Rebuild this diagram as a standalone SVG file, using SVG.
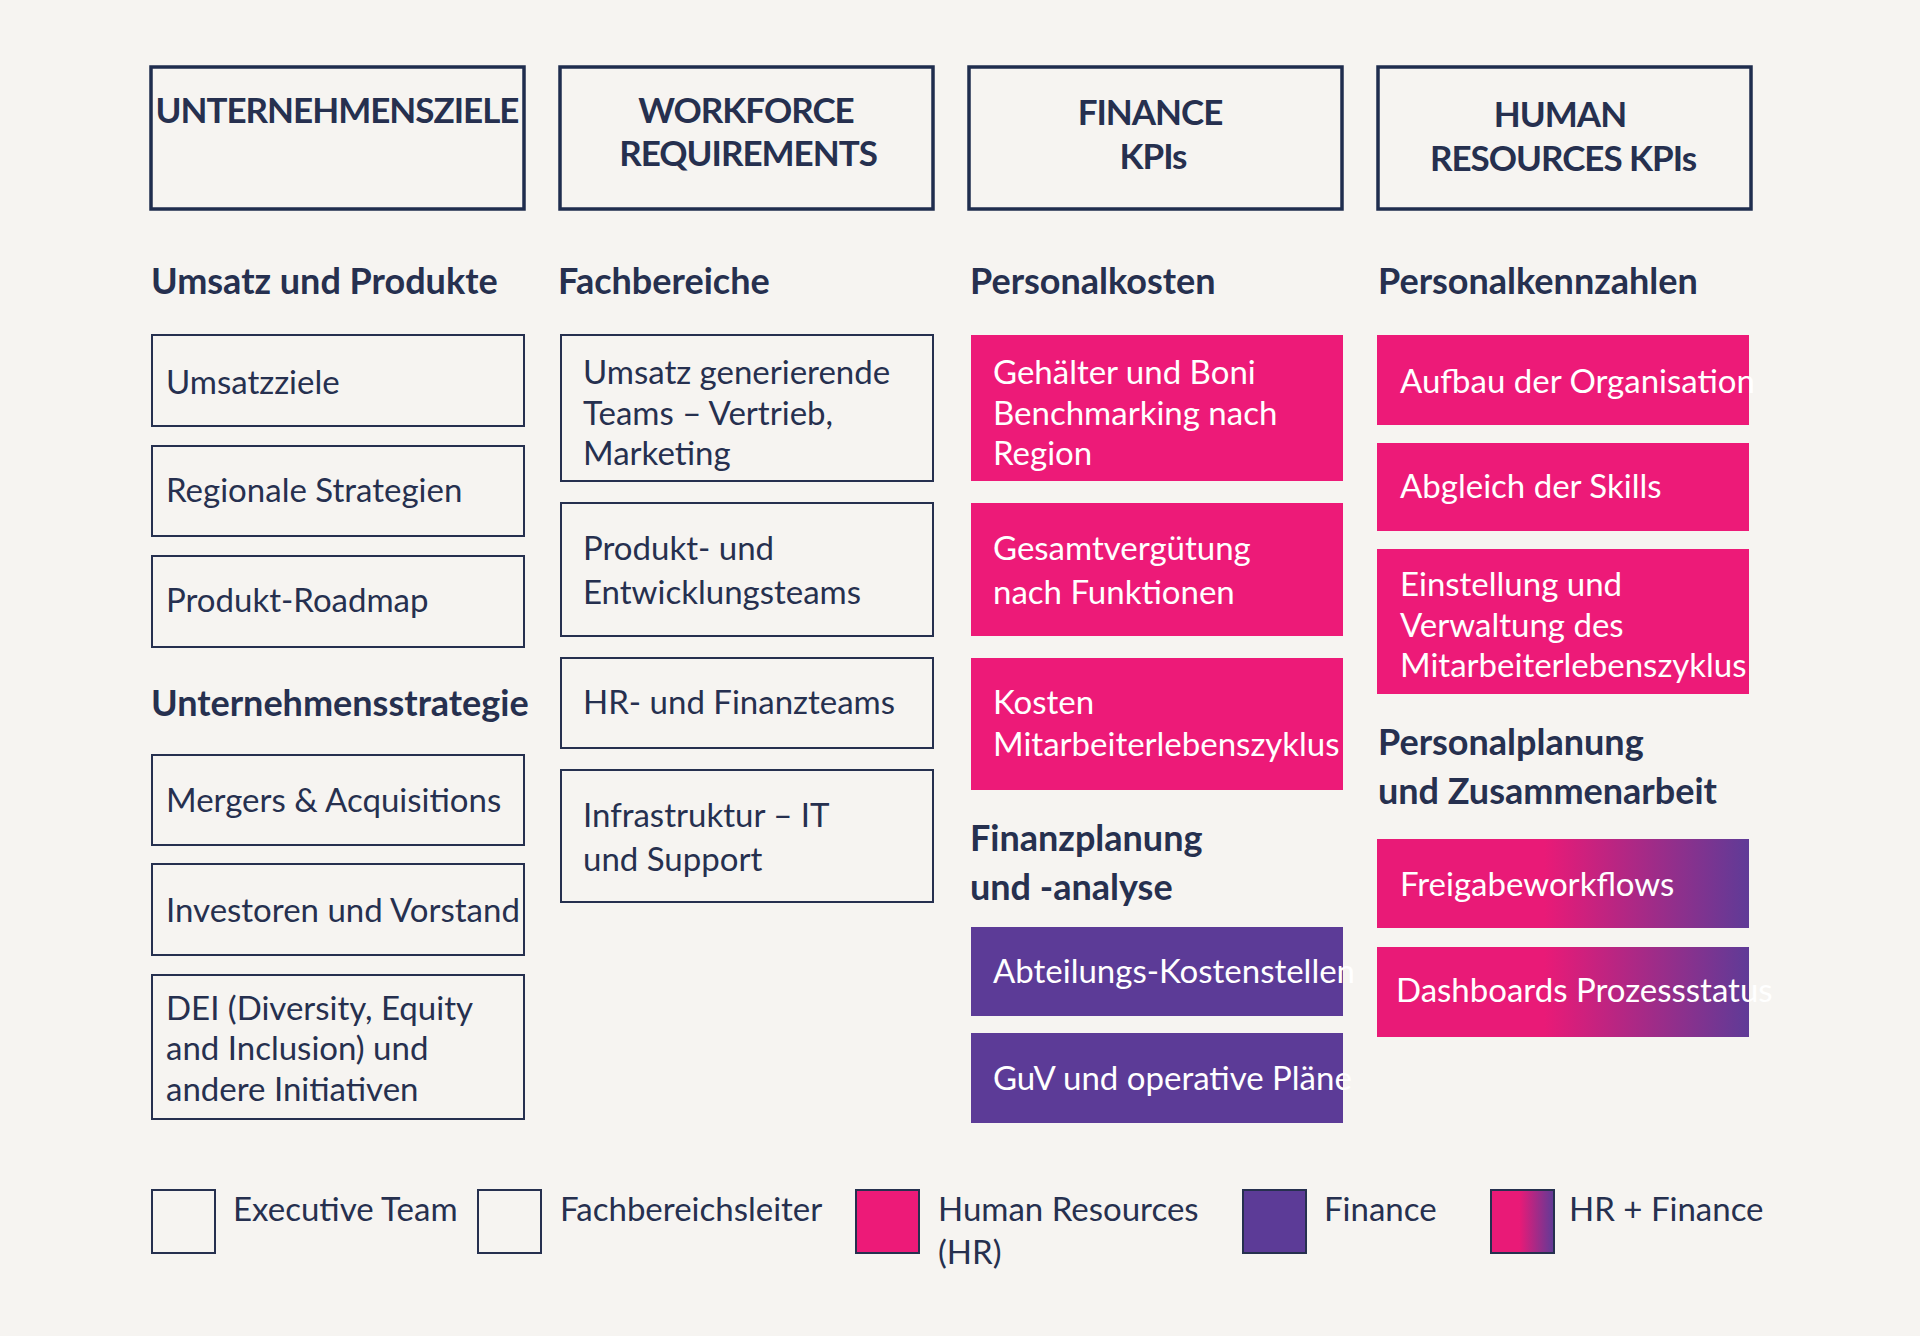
<svg xmlns="http://www.w3.org/2000/svg" width="1920" height="1336" viewBox="0 0 1920 1336">
<defs>
<linearGradient id="g" x1="0" x2="1" y1="0" y2="0"><stop offset="0.45" stop-color="#e91a77"/><stop offset="1" stop-color="#5f3b97"/></linearGradient>
<style>
text{font-family:Lato,"Open Sans","Liberation Sans",sans-serif;fill:#26304f}
.hb{fill:none;stroke:#1f2d4e;stroke-width:3.5}
.hd{font-size:35px;font-weight:bold;text-anchor:middle;letter-spacing:-1px}
.sh{font-size:36px;font-weight:bold}
.wb{fill:none;stroke:#26304f;stroke-width:2}
.pk{fill:#ed1a78}
.pu{fill:#5c3b97}
.gr{fill:url(#g)}
.t{font-size:33px}
.w{fill:#ffffff}
</style>
</defs>
<rect width="1920" height="1336" fill="#f6f4f1"/>
<g id="h1"><rect class="hb" x="151" y="67" width="373" height="142"/><text class="hd" x="337" y="123">UNTERNEHMENSZIELE</text></g>
<g id="h2"><rect class="hb" x="560" y="67" width="373" height="142"/><text class="hd" x="746" y="123">WORKFORCE</text><text class="hd" x="748" y="166">REQUIREMENTS</text></g>
<g id="h3"><rect class="hb" x="969" y="67" width="373" height="142"/><text class="hd" x="1150" y="125">FINANCE</text><text class="hd" x="1153" y="169">KPIs</text></g>
<g id="h4"><rect class="hb" x="1378" y="67" width="373" height="142"/><text class="hd" x="1560" y="127">HUMAN</text><text class="hd" x="1563" y="171">RESOURCES KPIs</text></g>
<g id="sections">
<text class="sh" x="151" y="294">Umsatz und Produkte</text>
<text class="sh" x="151" y="716">Unternehmensstrategie</text>
<text class="sh" x="558" y="294">Fachbereiche</text>
<text class="sh" x="970" y="294">Personalkosten</text>
<text class="sh" x="970" y="851">Finanzplanung</text>
<text class="sh" x="970" y="900">und -analyse</text>
<text class="sh" x="1378" y="294">Personalkennzahlen</text>
<text class="sh" x="1378" y="755">Personalplanung</text>
<text class="sh" x="1378" y="804">und Zusammenarbeit</text>
</g>
<g id="c1a"><rect class="wb" x="152" y="335" width="372" height="91"/><text class="t" x="166" y="394">Umsatzziele</text></g>
<g id="c1b"><rect class="wb" x="152" y="446" width="372" height="90"/><text class="t" x="166" y="502">Regionale Strategien</text></g>
<g id="c1c"><rect class="wb" x="152" y="556" width="372" height="91"/><text class="t" x="166" y="612">Produkt-Roadmap</text></g>
<g id="c1d"><rect class="wb" x="152" y="755" width="372" height="90"/><text class="t" x="166" y="812">Mergers &amp; Acquisitions</text></g>
<g id="c1e"><rect class="wb" x="152" y="864" width="372" height="91"/><text class="t" x="166" y="922">Investoren und Vorstand</text></g>
<g id="c1f"><rect class="wb" x="152" y="975" width="372" height="144"/><text class="t" x="166" y="1020">DEI (Diversity, Equity</text><text class="t" x="166" y="1060">and Inclusion) und</text><text class="t" x="166" y="1101">andere Initiativen</text></g>
<g id="c2a"><rect class="wb" x="561" y="335" width="372" height="146"/><text class="t" x="583" y="384">Umsatz generierende</text><text class="t" x="583" y="425">Teams – Vertrieb,</text><text class="t" x="583" y="465">Marketing</text></g>
<g id="c2b"><rect class="wb" x="561" y="503" width="372" height="133"/><text class="t" x="583" y="560">Produkt- und</text><text class="t" x="583" y="604">Entwicklungsteams</text></g>
<g id="c2c"><rect class="wb" x="561" y="658" width="372" height="90"/><text class="t" x="583" y="714">HR- und Finanzteams</text></g>
<g id="c2d"><rect class="wb" x="561" y="770" width="372" height="132"/><text class="t" x="583" y="827">Infrastruktur – IT</text><text class="t" x="583" y="871">und Support</text></g>
<g id="c3a"><rect class="pk" x="971" y="335" width="372" height="146"/><text class="t w" x="993" y="384">Gehälter und Boni</text><text class="t w" x="993" y="425">Benchmarking nach</text><text class="t w" x="993" y="465">Region</text></g>
<g id="c3b"><rect class="pk" x="971" y="503" width="372" height="133"/><text class="t w" x="993" y="560">Gesamtvergütung</text><text class="t w" x="993" y="604">nach Funktionen</text></g>
<g id="c3c"><rect class="pk" x="971" y="658" width="372" height="132"/><text class="t w" x="993" y="714">Kosten</text><text class="t w" x="993" y="756">Mitarbeiterlebenszyklus</text></g>
<g id="c3d"><rect class="pu" x="971" y="927" width="372" height="89"/><text class="t w" x="993" y="983">Abteilungs-Kostenstellen</text></g>
<g id="c3e"><rect class="pu" x="971" y="1033" width="372" height="90"/><text class="t w" x="993" y="1090">GuV und operative Pläne</text></g>
<g id="c4a"><rect class="pk" x="1377" y="335" width="372" height="90"/><text class="t w" x="1400" y="393">Aufbau der Organisation</text></g>
<g id="c4b"><rect class="pk" x="1377" y="443" width="372" height="88"/><text class="t w" x="1400" y="498">Abgleich der Skills</text></g>
<g id="c4c"><rect class="pk" x="1377" y="549" width="372" height="145"/><text class="t w" x="1400" y="596">Einstellung und</text><text class="t w" x="1400" y="637">Verwaltung des</text><text class="t w" x="1400" y="677">Mitarbeiterlebenszyklus</text></g>
<g id="c4d"><rect class="gr" x="1377" y="839" width="372" height="89"/><text class="t w" x="1400" y="896">Freigabeworkflows</text></g>
<g id="c4e"><rect class="gr" x="1377" y="947" width="372" height="90"/><text class="t w" x="1396" y="1002">Dashboards Prozessstatus</text></g>
<g id="legend">
<rect class="wb" x="152" y="1190" width="63" height="63"/><text class="t" x="233" y="1221">Executive Team</text>
<rect class="wb" x="478" y="1190" width="63" height="63"/><text class="t" x="560" y="1221">Fachbereichsleiter</text>
<rect class="pk" x="856" y="1190" width="63" height="63" stroke="#26304f" stroke-width="2"/><text class="t" x="938" y="1221">Human Resources</text><text class="t" x="938" y="1264">(HR)</text>
<rect class="pu" x="1243" y="1190" width="63" height="63" stroke="#26304f" stroke-width="2"/><text class="t" x="1324" y="1221">Finance</text>
<rect x="1491" y="1190" width="63" height="63" fill="url(#g)" stroke="#26304f" stroke-width="2"/><text class="t" x="1569" y="1221">HR + Finance</text>
</g>
<g id="connectors"/>
</svg>
